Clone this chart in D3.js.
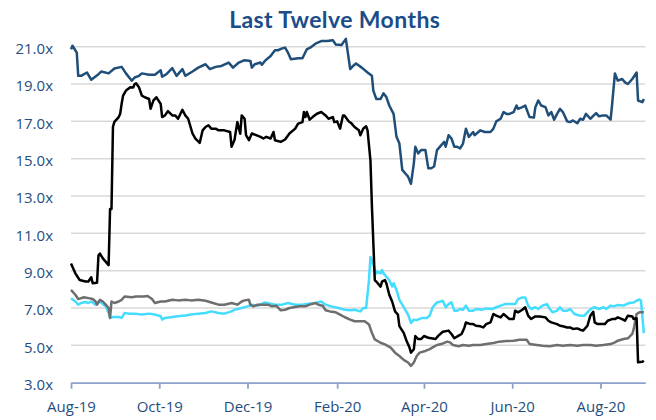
<!DOCTYPE html>
<html lang="en">
<head>
<meta charset="utf-8">
<title>Last Twelve Months</title>
<style>
  body { margin: 0; background: #fff; }

  .title {
    font-family: Lato, "Open Sans", sans-serif;
    font-weight: bold;
    font-size: 23px;
    letter-spacing: 0.4px;
    fill: #1B4D89;
    text-anchor: middle;
  }

  .axis text {
    font-family: "Open Sans", Lato, sans-serif;
    font-size: 15px;
    fill: #1F4E7F;
  }

  .grid line {
    stroke: #D9D9D9;
    stroke-width: 1.5;
  }

  .line {
    fill: none;
    stroke-width: 2.5;
    stroke-linejoin: round;
  }
</style>
</head>
<body>
<div id="chart"></div>
<script src="https://cdn.jsdelivr.net/npm/d3@7/dist/d3.min.js"></script>
<script>

// ---- data ----
var yTicks = [3, 5, 7, 9, 11, 13, 15, 17, 19, 21];
var xTicks = ["2019-08-01", "2019-10-01", "2019-12-01", "2020-02-01", "2020-04-01", "2020-06-01", "2020-08-01"];

var navySeries = [
  ["2019-08-01",20.86],["2019-08-02",21.05],["2019-08-05",20.68],["2019-08-06",19.44],["2019-08-08",19.44],
  ["2019-08-12",19.62],["2019-08-15",19.23],["2019-08-20",19.53],["2019-08-22",19.67],["2019-08-27",19.57],
  ["2019-08-31",19.83],["2019-09-05",19.92],["2019-09-08",19.57],["2019-09-12",19.18],["2019-09-14",19.35],
  ["2019-09-17",19.44],["2019-09-19",19.57],["2019-09-24",19.5],["2019-09-28",19.5],["2019-10-02",19.74],
  ["2019-10-03",19.39],["2019-10-06",19.53],["2019-10-10",19.85],["2019-10-13",19.44],["2019-10-17",19.8],
  ["2019-10-19",19.44],["2019-10-24",19.67],["2019-10-28",19.88],["2019-11-02",20.06],["2019-11-05",19.8],
  ["2019-11-09",19.92],["2019-11-13",19.97],["2019-11-18",20.15],["2019-11-21",19.88],["2019-11-25",20.15],
  ["2019-11-29",20.28],["2019-12-03",20.24],["2019-12-04",19.88],["2019-12-06",20.06],["2019-12-10",20.15],
  ["2019-12-11",20.03],["2019-12-13",20.24],["2019-12-17",20.5],["2019-12-20",20.81],["2019-12-22",20.81],
  ["2019-12-25",20.91],["2019-12-27",20.95],["2019-12-29",20.68],["2019-12-31",20.33],["2020-01-05",20.38],
  ["2020-01-08",20.38],["2020-01-11",20.86],["2020-01-14",20.98],["2020-01-17",21.16],["2020-01-21",21.3],
  ["2020-01-25",21.3],["2020-01-29",21.35],["2020-01-31",21.12],["2020-02-04",21.09],["2020-02-07",21.42],
  ["2020-02-10",19.8],["2020-02-12",19.97],["2020-02-14",20.1],["2020-02-18",19.88],["2020-02-22",19.62],
  ["2020-02-25",19.44],["2020-02-26",18.65],["2020-02-28",18.2],["2020-03-02",18.2],["2020-03-04",18.5],
  ["2020-03-06",18.3],["2020-03-08",17.85],["2020-03-11",17.4],["2020-03-13",16.17],["2020-03-15",15.81],
  ["2020-03-17",14.4],["2020-03-19",14.22],["2020-03-21",14.04],["2020-03-23",13.65],["2020-03-25",14.75],
  ["2020-03-26",15.64],["2020-03-28",15.28],["2020-03-30",15.46],["2020-04-02",15.46],["2020-04-04",14.49],
  ["2020-04-06",14.49],["2020-04-08",14.58],["2020-04-10",15.46],["2020-04-13",15.73],["2020-04-15",15.9],
  ["2020-04-16",15.64],["2020-04-18",16.26],["2020-04-20",16.08],["2020-04-22",15.64],["2020-04-24",15.64],
  ["2020-04-26",15.55],["2020-04-28",15.81],["2020-04-30",16.61],["2020-05-02",16.17],["2020-05-05",16.43],
  ["2020-05-06",16.26],["2020-05-10",16.52],["2020-05-13",16.43],["2020-05-17",16.43],["2020-05-19",16.61],
  ["2020-05-21",17.0],["2020-05-24",17.14],["2020-05-26",17.5],["2020-05-28",17.4],["2020-05-30",17.4],
  ["2020-06-02",17.5],["2020-06-04",17.85],["2020-06-05",17.67],["2020-06-08",17.76],["2020-06-10",17.85],
  ["2020-06-13",17.23],["2020-06-16",17.2],["2020-06-17",17.76],["2020-06-19",18.12],["2020-06-21",17.85],
  ["2020-06-24",17.76],["2020-06-26",17.32],["2020-06-28",17.5],["2020-06-30",17.09],["2020-07-02",17.4],
  ["2020-07-04",17.67],["2020-07-06",17.5],["2020-07-09",17.0],["2020-07-11",16.96],["2020-07-13",17.05],
  ["2020-07-16",16.9],["2020-07-18",17.14],["2020-07-20",17.09],["2020-07-22",17.4],["2020-07-25",17.14],
  ["2020-07-29",17.44],["2020-07-31",17.27],["2020-08-03",17.32],["2020-08-05",17.32],["2020-08-08",17.09],
  ["2020-08-09",17.85],["2020-08-11",19.57],["2020-08-13",19.18],["2020-08-16",19.27],["2020-08-18",19.09],
  ["2020-08-20",19.0],["2020-08-23",19.27],["2020-08-26",19.62],["2020-08-27",18.12],["2020-08-30",18.03],
  ["2020-08-31",18.2]
];

var blackSeries = [
  ["2019-08-01",9.39],["2019-08-04",8.86],["2019-08-07",8.5],["2019-08-11",8.42],["2019-08-13",8.42],
  ["2019-08-15",8.65],["2019-08-16",8.33],["2019-08-19",8.36],["2019-08-20",9.83],["2019-08-21",9.92],
  ["2019-08-23",9.66],["2019-08-27",9.3],["2019-08-28",12.3],["2019-08-29",12.3],["2019-08-30",16.7],
  ["2019-08-31",16.97],["2019-09-03",17.23],["2019-09-04",17.41],["2019-09-05",17.94],["2019-09-06",18.38],
  ["2019-09-08",18.65],["2019-09-11",18.83],["2019-09-13",18.82],["2019-09-14",19.0],["2019-09-15",19.04],
  ["2019-09-17",18.82],["2019-09-19",18.38],["2019-09-21",18.29],["2019-09-24",18.2],["2019-09-25",17.67],
  ["2019-09-27",18.12],["2019-09-29",18.29],["2019-10-02",17.94],["2019-10-03",17.23],["2019-10-05",17.32],
  ["2019-10-07",17.55],["2019-10-10",17.32],["2019-10-12",17.32],["2019-10-14",17.14],["2019-10-17",17.62],
  ["2019-10-19",17.32],["2019-10-21",17.14],["2019-10-24",16.35],["2019-10-26",16.08],["2019-10-29",15.85],
  ["2019-10-31",16.52],["2019-11-02",16.7],["2019-11-04",16.79],["2019-11-06",16.61],["2019-11-09",16.61],
  ["2019-11-11",16.52],["2019-11-13",16.52],["2019-11-15",16.52],["2019-11-19",16.43],["2019-11-20",15.64],
  ["2019-11-22",16.0],["2019-11-24",16.96],["2019-11-26",16.34],["2019-11-27",17.32],["2019-11-29",17.14],
  ["2019-11-30",16.26],["2019-12-02",15.99],["2019-12-04",16.35],["2019-12-07",16.26],["2019-12-10",16.17],
  ["2019-12-12",16.08],["2019-12-14",16.17],["2019-12-17",16.08],["2019-12-19",16.43],["2019-12-20",15.99],
  ["2019-12-24",15.9],["2019-12-27",16.03],["2019-12-30",16.35],["2020-01-03",16.61],["2020-01-05",16.88],
  ["2020-01-08",16.96],["2020-01-09",17.5],["2020-01-10",17.23],["2020-01-11",17.5],["2020-01-13",17.09],
  ["2020-01-15",17.23],["2020-01-18",17.41],["2020-01-21",17.5],["2020-01-24",17.32],["2020-01-26",17.14],
  ["2020-01-29",17.23],["2020-01-30",16.96],["2020-02-01",17.0],["2020-02-03",16.61],["2020-02-05",17.32],
  ["2020-02-06",17.32],["2020-02-09",17.0],["2020-02-11",16.88],["2020-02-13",16.7],["2020-02-16",16.52],
  ["2020-02-17",16.26],["2020-02-19",16.61],["2020-02-21",16.74],["2020-02-22",16.52],["2020-02-24",14.9],
  ["2020-02-25",12.5],["2020-02-27",8.5],["2020-02-28",8.42],["2020-03-02",8.15],["2020-03-03",8.42],
  ["2020-03-05",8.5],["2020-03-06",8.33],["2020-03-08",7.71],["2020-03-10",7.35],["2020-03-12",6.82],
  ["2020-03-14",6.65],["2020-03-15",6.03],["2020-03-18",5.67],["2020-03-20",5.23],["2020-03-22",4.88],
  ["2020-03-23",4.61],["2020-03-25",4.79],["2020-03-26",5.5],["2020-03-28",5.34],["2020-03-30",5.34],
  ["2020-04-01",5.5],["2020-04-04",5.41],["2020-04-06",5.38],["2020-04-09",5.34],["2020-04-11",5.52],
  ["2020-04-14",5.73],["2020-04-18",5.79],["2020-04-20",5.61],["2020-04-22",5.38],["2020-04-25",5.52],
  ["2020-04-27",5.61],["2020-04-29",5.96],["2020-04-30",6.23],["2020-05-03",6.14],["2020-05-05",6.14],
  ["2020-05-07",6.05],["2020-05-10",6.02],["2020-05-12",5.96],["2020-05-14",6.14],["2020-05-17",6.23],
  ["2020-05-19",6.68],["2020-05-21",6.59],["2020-05-24",6.5],["2020-05-26",6.68],["2020-05-28",6.55],
  ["2020-05-30",6.41],["2020-06-02",6.41],["2020-06-03",6.86],["2020-06-05",6.77],["2020-06-08",6.91],
  ["2020-06-10",7.04],["2020-06-12",6.59],["2020-06-14",6.41],["2020-06-17",6.55],["2020-06-20",6.55],
  ["2020-06-24",6.5],["2020-06-26",6.32],["2020-06-28",6.23],["2020-07-02",6.14],["2020-07-04",6.05],
  ["2020-07-06",6.02],["2020-07-09",5.96],["2020-07-11",5.96],["2020-07-13",5.88],["2020-07-16",5.91],
  ["2020-07-18",5.84],["2020-07-20",5.79],["2020-07-23",6.05],["2020-07-25",6.59],["2020-07-27",6.8],
  ["2020-07-28",6.23],["2020-07-30",6.14],["2020-08-02",6.14],["2020-08-04",6.14],["2020-08-06",6.32],
  ["2020-08-09",6.41],["2020-08-11",6.41],["2020-08-13",6.5],["2020-08-16",6.41],["2020-08-18",6.32],
  ["2020-08-20",6.59],["2020-08-23",6.55],["2020-08-24",6.41],["2020-08-26",6.45],["2020-08-27",4.09],
  ["2020-08-30",4.12],["2020-08-31",4.18]
];

var cyanSeries = [
  ["2019-08-01",7.53],["2019-08-04",7.35],["2019-08-06",7.18],["2019-08-08",7.27],["2019-08-11",7.32],
  ["2019-08-13",7.27],["2019-08-15",7.35],["2019-08-18",7.18],["2019-08-20",7.35],["2019-08-22",7.27],
  ["2019-08-25",7.09],["2019-08-27",6.73],["2019-08-28",6.47],["2019-08-30",6.52],["2019-09-03",6.52],
  ["2019-09-05",6.47],["2019-09-07",6.73],["2019-09-10",6.7],["2019-09-14",6.7],["2019-09-19",6.65],
  ["2019-09-24",6.7],["2019-09-28",6.65],["2019-10-02",6.56],["2019-10-03",6.38],["2019-10-05",6.47],
  ["2019-10-10",6.52],["2019-10-14",6.56],["2019-10-19",6.6],["2019-10-23",6.65],["2019-10-28",6.7],
  ["2019-11-02",6.73],["2019-11-06",6.82],["2019-11-11",6.73],["2019-11-15",6.7],["2019-11-20",6.82],
  ["2019-11-22",6.91],["2019-11-27",7.0],["2019-12-01",7.09],["2019-12-04",7.18],["2019-12-08",7.12],
  ["2019-12-13",7.3],["2019-12-17",7.23],["2019-12-20",7.18],["2019-12-25",7.18],["2019-12-29",7.27],
  ["2020-01-03",7.18],["2020-01-08",7.18],["2020-01-12",7.23],["2020-01-17",7.27],["2020-01-21",7.35],
  ["2020-01-24",7.18],["2020-01-28",7.09],["2020-02-02",7.0],["2020-02-06",6.91],["2020-02-10",6.88],
  ["2020-02-13",6.91],["2020-02-17",6.82],["2020-02-19",7.0],["2020-02-21",7.0],["2020-02-23",8.5],
  ["2020-02-24",9.74],["2020-02-26",9.3],["2020-02-28",8.86],["2020-02-29",8.95],["2020-03-02",8.86],
  ["2020-03-03",9.04],["2020-03-04",8.86],["2020-03-06",8.68],["2020-03-08",8.5],["2020-03-10",8.15],
  ["2020-03-11",8.33],["2020-03-13",7.97],["2020-03-15",7.44],["2020-03-17",7.18],["2020-03-19",6.91],
  ["2020-03-21",6.65],["2020-03-23",6.2],["2020-03-25",6.38],["2020-03-27",6.35],["2020-03-29",6.42],
  ["2020-03-31",6.47],["2020-04-03",6.47],["2020-04-05",6.6],["2020-04-07",7.04],["2020-04-10",7.3],
  ["2020-04-12",7.34],["2020-04-14",7.39],["2020-04-16",7.04],["2020-04-18",7.21],["2020-04-20",7.3],
  ["2020-04-22",6.86],["2020-04-24",6.86],["2020-04-26",6.95],["2020-04-28",6.91],["2020-04-30",7.13],
  ["2020-05-02",6.86],["2020-05-05",6.86],["2020-05-07",6.95],["2020-05-11",6.91],["2020-05-14",6.98],
  ["2020-05-18",6.95],["2020-05-21",7.04],["2020-05-24",7.13],["2020-05-27",7.21],["2020-05-30",7.21],
  ["2020-06-03",7.21],["2020-06-05",7.48],["2020-06-08",7.57],["2020-06-10",7.57],["2020-06-12",7.13],
  ["2020-06-14",6.95],["2020-06-17",7.04],["2020-06-19",6.95],["2020-06-22",7.13],["2020-06-25",7.21],
  ["2020-06-27",6.95],["2020-06-29",6.77],["2020-07-02",6.86],["2020-07-04",7.04],["2020-07-06",6.86],
  ["2020-07-09",6.86],["2020-07-11",6.95],["2020-07-14",6.68],["2020-07-18",6.59],["2020-07-21",6.59],
  ["2020-07-24",6.86],["2020-07-26",6.98],["2020-07-28",7.04],["2020-07-31",6.95],["2020-08-03",7.04],
  ["2020-08-05",6.95],["2020-08-08",7.13],["2020-08-10",7.09],["2020-08-13",7.16],["2020-08-17",7.13],
  ["2020-08-19",7.21],["2020-08-21",7.27],["2020-08-24",7.3],["2020-08-26",7.39],["2020-08-28",7.46],
  ["2020-08-29",7.4],["2020-08-31",5.66]
];

var graySeries = [
  ["2019-08-01",7.97],["2019-08-04",7.71],["2019-08-06",7.48],["2019-08-10",7.58],["2019-08-13",7.53],
  ["2019-08-16",7.48],["2019-08-18",7.35],["2019-08-19",7.18],["2019-08-21",7.44],["2019-08-23",7.35],
  ["2019-08-25",7.18],["2019-08-27",7.0],["2019-08-28",6.47],["2019-08-29",7.35],["2019-08-31",7.27],
  ["2019-09-03",7.35],["2019-09-05",7.44],["2019-09-07",7.62],["2019-09-12",7.58],["2019-09-15",7.62],
  ["2019-09-20",7.62],["2019-09-23",7.65],["2019-09-26",7.48],["2019-09-28",7.27],["2019-10-02",7.35],
  ["2019-10-05",7.35],["2019-10-10",7.44],["2019-10-14",7.41],["2019-10-19",7.44],["2019-10-23",7.41],
  ["2019-10-28",7.44],["2019-11-02",7.39],["2019-11-06",7.3],["2019-11-11",7.18],["2019-11-15",7.18],
  ["2019-11-20",7.27],["2019-11-24",7.18],["2019-11-27",7.35],["2019-11-29",7.41],["2019-12-02",7.44],
  ["2019-12-03",7.18],["2019-12-05",7.09],["2019-12-08",7.18],["2019-12-12",7.18],["2019-12-15",7.18],
  ["2019-12-18",7.09],["2019-12-21",7.12],["2019-12-24",6.88],["2019-12-27",6.91],["2019-12-30",7.0],
  ["2020-01-03",7.05],["2020-01-06",7.09],["2020-01-10",7.09],["2020-01-13",7.18],["2020-01-17",7.27],
  ["2020-01-19",7.18],["2020-01-22",7.12],["2020-01-24",6.88],["2020-01-27",6.82],["2020-01-31",6.77],
  ["2020-02-03",6.65],["2020-02-06",6.52],["2020-02-10",6.38],["2020-02-13",6.29],["2020-02-17",6.29],
  ["2020-02-20",6.29],["2020-02-23",6.12],["2020-02-25",5.67],["2020-02-27",5.32],["2020-03-02",5.14],
  ["2020-03-05",5.05],["2020-03-09",4.88],["2020-03-12",4.61],["2020-03-15",4.43],["2020-03-18",4.22],
  ["2020-03-21",4.08],["2020-03-23",3.9],["2020-03-25",4.08],["2020-03-27",4.43],["2020-03-29",4.61],
  ["2020-04-02",4.7],["2020-04-05",4.8],["2020-04-07",4.89],["2020-04-10",5.02],["2020-04-13",5.07],
  ["2020-04-17",5.2],["2020-04-19",5.16],["2020-04-21",5.02],["2020-04-25",4.95],["2020-04-28",5.02],
  ["2020-05-02",4.98],["2020-05-05",5.02],["2020-05-10",5.02],["2020-05-14",5.07],["2020-05-19",5.13],
  ["2020-05-23",5.2],["2020-05-28",5.23],["2020-06-02",5.25],["2020-06-06",5.3],["2020-06-11",5.3],
  ["2020-06-13",5.07],["2020-06-18",5.02],["2020-06-22",4.98],["2020-06-27",4.95],["2020-07-02",5.02],
  ["2020-07-06",4.98],["2020-07-11",5.02],["2020-07-16",4.98],["2020-07-20",5.02],["2020-07-25",5.02],
  ["2020-07-29",4.98],["2020-08-03",5.02],["2020-08-08",5.07],["2020-08-11",5.16],["2020-08-13",5.25],
  ["2020-08-17",5.34],["2020-08-20",5.38],["2020-08-23",5.61],["2020-08-24",5.88],["2020-08-26",6.68],
  ["2020-08-28",6.77],["2020-08-31",6.77]
];

var seriesList = [
  {name: "cyan",  color: "#45DDFF", values: cyanSeries},
  {name: "gray",  color: "#6E6E6E", values: graySeries},
  {name: "black", color: "#000000", values: blackSeries},
  {name: "navy",  color: "#1F4E79", values: navySeries}
];

// ---- layout ----
var width = 656, height = 420;
var plot = {left: 71, right: 645.3, top: 46.7, bottom: 382.7};

var parseDate = d3.timeParse("%Y-%m-%d");
var formatTick = d3.timeFormat("%b-%y");

var svg = d3.select("#chart")
            .append("svg")
            .attr("width", width)
            .attr("height", height);

var xScale = d3.scaleTime()
               .domain([parseDate("2019-08-01"), parseDate("2020-09-01")])
               .range([plot.left, plot.right]);

var yScale = d3.scaleLinear()
               .domain([3, 21])
               .range([plot.bottom, plot.top]);

// gridlines (the 3.0x line is the x axis itself)
svg.append("g")
   .attr("class", "grid")
   .selectAll("line")
   .data(yTicks.filter(function(d){ return d > 3; }))
   .enter()
   .append("line")
   .attr("x1", plot.left)
   .attr("x2", plot.right)
   .attr("y1", function(d){ return yScale(d); })
   .attr("y2", function(d){ return yScale(d); });

// y labels
var yAxis = d3.axisLeft(yScale)
              .tickValues(yTicks)
              .tickSize(0)
              .tickPadding(18)
              .tickFormat(function(d){ return d.toFixed(1) + "x"; });

svg.append("g")
   .attr("class", "y axis")
   .attr("transform", "translate(" + plot.left + ",0)")
   .call(yAxis)
   .call(function(g){ g.select(".domain").remove(); })
   .selectAll("text")
   .attr("dy", "0.45em");

// x axis
var xAxis = d3.axisBottom(xScale)
              .tickValues(xTicks.map(parseDate))
              .tickSize(6)
              .tickSizeOuter(0)
              .tickPadding(13)
              .tickFormat(formatTick);

var xg = svg.append("g")
            .attr("class", "x axis")
            .attr("transform", "translate(0," + plot.bottom + ")")
            .call(xAxis);

xg.select(".domain").attr("stroke", "#8EA0CB").attr("stroke-width", 1.8);
xg.selectAll(".tick line").attr("stroke", "#8EA0CB").attr("stroke-width", 1.8);

// lines
var line = d3.line()
             .x(function(d){ return xScale(parseDate(d[0])); })
             .y(function(d){ return yScale(d[1]); });

svg.selectAll("path.line")
   .data(seriesList)
   .enter()
   .append("path")
   .attr("class", "line")
   .attr("stroke", function(d){ return d.color; })
   .attr("d", function(d){ return line(d.values); });

// title
svg.append("text")
   .attr("class", "title")
   .attr("x", 334.7)
   .attr("y", 27.7)
   .text("Last Twelve Months");

</script>
</body>
</html>
